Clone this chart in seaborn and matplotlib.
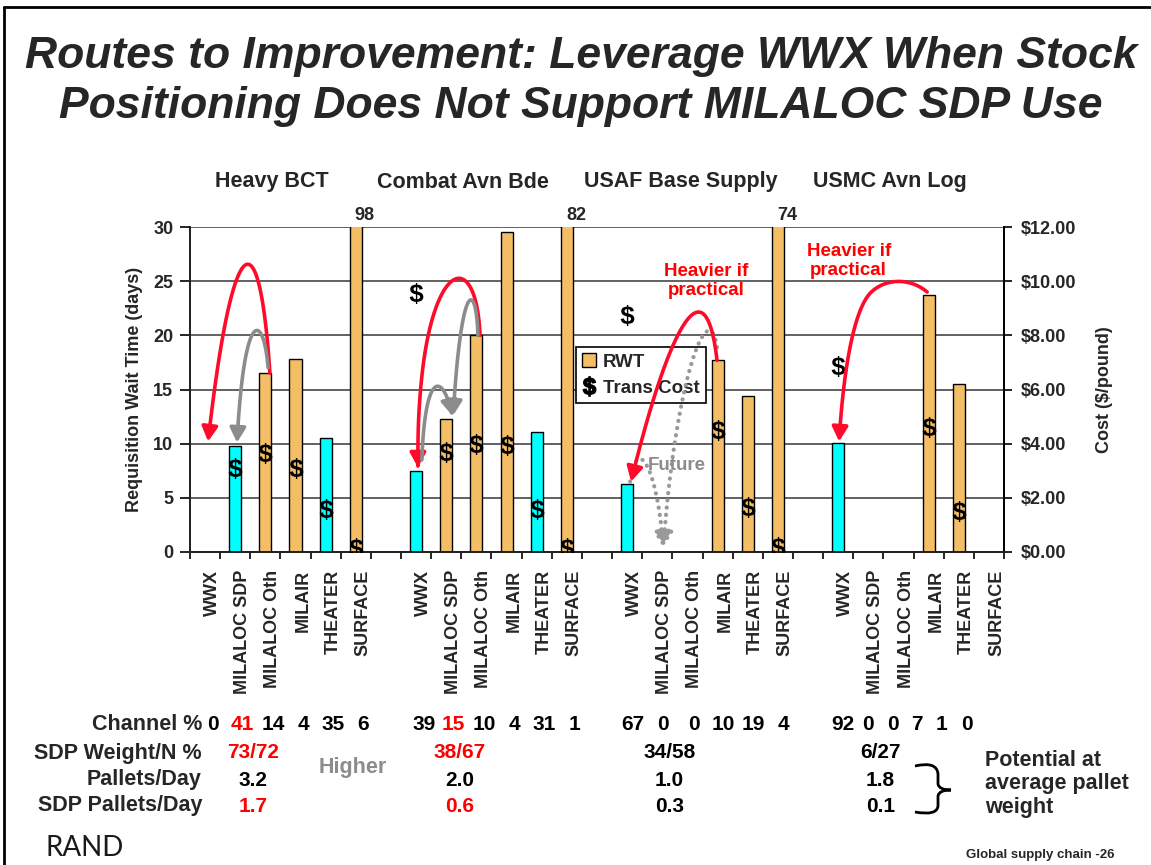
import numpy as np
import pandas as pd
import matplotlib
matplotlib.use("Agg")
import matplotlib.pyplot as plt
import seaborn as sns
from matplotlib.patches import FancyArrowPatch, Patch, PathPatch
from matplotlib.path import Path
from matplotlib.lines import Line2D
from matplotlib.ticker import FuncFormatter
from matplotlib.transforms import blended_transform_factory

# ---- data -------------------------------------------------------------
groups = ["Heavy BCT", "Combat Avn Bde", "USAF Base Supply", "USMC Avn Log"]
channels = ["WWX", "MILALOC SDP", "MILALOC Oth", "MILAIR", "THEATER", "SURFACE"]

# requisition wait time (days)
rwt_hbct = [0, 9.8, 16.5, 17.8, 10.5, 98]
rwt_cab = [7.5, 12.3, 20.0, 29.5, 11.1, 82]
rwt_usaf = [6.3, 0, 0, 17.7, 14.4, 74]
rwt_usmc = [10.1, 0, 0, 23.7, 15.5, 0]

# bars shown in cyan
cyan_hbct = [0, 1, 0, 0, 1, 0]
cyan_cab = [1, 0, 0, 0, 1, 0]
cyan_usaf = [1, 0, 0, 0, 0, 0]
cyan_usmc = [1, 0, 0, 0, 0, 0]

# transportation cost ($/pound)
cost_hbct = [np.nan, 3.1, 3.65, 3.1, 1.6, 0.15]
cost_cab = [9.55, 3.7, 4.0, 3.95, 1.6, 0.15]
cost_usaf = [8.75, np.nan, np.nan, 4.5, 1.65, 0.18]
cost_usmc = [6.85, np.nan, np.nan, 4.6, 1.5, np.nan]

channel_pct_hbct = ["0", "41", "14", "4", "35", "6"]
channel_pct_cab = ["39", "15", "10", "4", "31", "1"]
channel_pct_usaf = ["67", "0", "0", "10", "19", "4"]
channel_pct_usmc = ["92", "0", "0", "7", "1", "0"]

sdp_weight_n = ["73/72", "38/67", "34/58", "6/27"]
pallets_day = ["3.2", "2.0", "1.0", "1.8"]
sdp_pallets_day = ["1.7", "0.6", "0.3", "0.1"]
sdp_red = [True, True, False, False]

# ---- table ------------------------------------------------------------
rwt_all = [rwt_hbct, rwt_cab, rwt_usaf, rwt_usmc]
cyan_all = [cyan_hbct, cyan_cab, cyan_usaf, cyan_usmc]
cost_all = [cost_hbct, cost_cab, cost_usaf, cost_usmc]
pct_all = [channel_pct_hbct, channel_pct_cab, channel_pct_usaf, channel_pct_usmc]

rows, order = [], []
for g, name in enumerate(groups):
    for k, ch in enumerate(channels):
        key = f"{name}|{ch}"
        order.append(key)
        rows.append(dict(key=key, channel=ch, group=g, k=k, rwt=rwt_all[g][k],
                         kind="cyan" if cyan_all[g][k] else "orange",
                         cost=cost_all[g][k]))
    if g < len(groups) - 1:
        order.append(f"gap{g}")
df = pd.DataFrame(rows)
df["pos"] = [order.index(k) for k in df["key"]]

# ---- style ------------------------------------------------------------
W, H = 1151, 865
ORANGE = "#F4BE67"
CYAN = "#00FFFF"
RED = "#FF0A2A"
GRAY = "#8C8C8C"

sns.set_theme(style="white")
plt.rcParams["font.family"] = ["Liberation Sans", "DejaVu Sans"]
plt.rcParams["font.weight"] = "bold"
plt.rcParams["mathtext.fontset"] = "custom"
plt.rcParams["mathtext.bf"] = "Liberation Sans:bold"
plt.rcParams["mathtext.rm"] = "Liberation Sans:bold"


def fy(py):
    return 1 - py / H


fig = plt.figure(figsize=(W / 100, H / 100), dpi=100)
fig.patch.set_facecolor("white")
ax = fig.add_axes([190 / W, fy(552), (1004 - 190) / W, (552 - 227) / H])

sns.barplot(data=df, x="key", y="rwt", order=order, hue="kind",
            palette={"cyan": CYAN, "orange": ORANGE}, saturation=1, dodge=False, width=0.4,
            edgecolor="black", linewidth=1, errorbar=None, legend=False, ax=ax)

ax.set_ylim(0, 30)
ax.set_yticks(range(0, 31, 5))
ax.set_xlim(-0.5, len(order) - 0.5)
ax.set_xticks(np.arange(-0.5, len(order), 1))
ax.set_xticklabels([])
ax.set_xlabel("")
ax.yaxis.grid(True, color="#555555", lw=1.3)
ax.set_axisbelow(True)
ax.tick_params(axis="x", bottom=True, direction="out", length=5, width=1.2, color="black")
ax.tick_params(axis="y", left=True, direction="out", length=7, width=1.2, color="black",
               labelsize=13, pad=5)
for t in ax.get_yticklabels():
    t.set_fontweight("bold")
for s in ["left", "bottom", "right"]:
    ax.spines[s].set_color("black")
    ax.spines[s].set_linewidth(1.3)
ax.spines["top"].set_visible(False)
ax.set_ylabel("Requisition Wait Time (days)", fontsize=13, fontweight="bold")
ax.yaxis.set_label_coords(-0.058, 0.5)

# clipped tall bars get their value on top
for _, r in df[df["rwt"] > 30].iterrows():
    ax.text(r["pos"] + 0.3, 31.1, f"{r['rwt']:g}", ha="center", va="center",
            fontsize=13, fontweight="bold", clip_on=False)

ax2 = ax.twinx()
cdf = df.dropna(subset=["cost"])
sns.scatterplot(data=cdf, x="pos", y="cost", marker=r"$\mathbf{\$}$", s=230,
                color="black", linewidth=0, legend=False, ax=ax2, zorder=4)
ax2.set_ylim(0, 12)
ax2.set_yticks(range(0, 13, 2))
ax2.yaxis.set_major_formatter(FuncFormatter(lambda v, p: f"${v:.2f}"))
ax2.tick_params(axis="y", right=True, direction="out", length=6, width=1.2, color="black",
                labelsize=13, pad=6)
for t in ax2.get_yticklabels():
    t.set_fontweight("bold")
ax2.spines["top"].set_visible(False)
ax2.spines["right"].set_color("black")
ax2.spines["right"].set_linewidth(1.3)
ax2.set_xlabel("")
ax2.set_ylabel("Cost ($/pound)", fontsize=13, fontweight="bold")
ax2.yaxis.set_label_coords(1.113, 0.5)
ax2.set_xlim(-0.5, len(order) - 0.5)

leg = ax2.legend(handles=[Patch(facecolor=ORANGE, edgecolor="black", label="RWT"),
                          Line2D([], [], marker=r"$\mathbf{\$}$", color="black", ls="None",
                                 markersize=14, label="Trans Cost")],
                 loc="upper left", bbox_to_anchor=(0.474, 0.631), frameon=True,
                 fancybox=False, edgecolor="black", framealpha=1,
                 prop=dict(size=13.5, weight="bold"), handlelength=0.75, handleheight=0.75,
                 handletextpad=0.35, borderpad=0.35, labelspacing=0.45, borderaxespad=0)
leg.get_frame().set_linewidth(1.2)
leg.set_zorder(5)


# ---- curved arrows (slot, days) --------------------------------------
def bezier(ctrl, n=50):
    ctrl = np.asarray(ctrl, float)
    t = np.linspace(0, 1, n)[:, None]
    pts = []
    for i in range(0, len(ctrl) - 1, 3):
        p0, p1, p2, p3 = ctrl[i:i + 4]
        seg = (1 - t) ** 3 * p0 + 3 * (1 - t) ** 2 * t * p1 + 3 * (1 - t) * t ** 2 * p2 + t ** 3 * p3
        pts.append(seg if i == 0 else seg[1:])
    return np.vstack(pts)


def curve(ctrl, color, ls="-", lw=2.6):
    arr = FancyArrowPatch(path=Path(bezier(ctrl)), arrowstyle="-|>,head_length=0.55,head_width=0.3",
                          mutation_scale=16, lw=lw, color=color, linestyle=ls,
                          transform=ax.transData, zorder=10, clip_on=False)
    arr.set_capstyle("round")
    arr.set_joinstyle("round")
    ax2.add_patch(arr)


DOT = (0, (0.05, 1.7))
curve([(2.15, 16.5), (1.8, 31.5), (0.9, 30), (0.1, 10.2)], RED)
curve([(2.09, 17), (1.95, 22), (1.3, 23), (1.06, 10.1)], GRAY)
curve([(9.12, 20), (9.0, 28), (7.6, 27), (7.19, 16.2), (7.05, 12.5), (7.06, 10), (7.06, 7.8)], RED)
curve([(7.19, 8.5), (7.3, 17), (7.9, 16.5), (8.2, 12.6)], GRAY)
curve([(9.05, 20), (9.0, 25), (8.5, 25.5), (8.23, 12.6)], GRAY)
curve([(14.1, 6.5), (14.3, 11), (15.0, 8), (15.2, 0.4)], "#999999", ls=DOT, lw=3)
curve([(16.98, 18.9), (16.7, 24), (15.6, 16), (15.2, 0.4)], "#999999", ls=DOT, lw=3)
curve([(16.98, 17.7), (16.6, 27), (15.4, 21), (14.13, 6.5)], RED)
curve([(23.95, 24.0), (23.4, 25.3), (22.6, 25.3), (22.1, 24.0), (21.6, 22.7), (21.2, 18),
       (21.03, 10.2)], RED)

for x, y in [(16.62, 25.0), (21.35, 26.9)]:
    ax2.text(x, y, "Heavier if\npractical", transform=ax.transData, ha="center", va="center",
             color="#FF0000", fontsize=13.5, fontweight="bold", linespacing=1.15, zorder=11)
ax2.text(15.65, 8.0, "Future", transform=ax.transData, ha="center", va="center",
         color=GRAY, fontsize=13.5, fontweight="bold", zorder=11)

# ---- texts around the axes --------------------------------------------
tr = blended_transform_factory(ax.transData, fig.transFigure)

group_x = [2.22, 8.55, 15.78, 22.72]
for name, x in zip(groups, group_x):
    ax.text(x, fy(182), name, transform=tr, ha="center", va="center",
            fontsize=15.5, fontweight="bold")

for _, r in df.iterrows():
    ax.text(r["pos"] + 0.25, fy(570), r["channel"], transform=tr, rotation=90,
            ha="center", va="top", fontsize=13, fontweight="bold")

row_y = [725, 753, 780, 806]
row_names = ["Channel %", "SDP Weight/N %", "Pallets/Day", "SDP Pallets/Day"]
for name, y in zip(row_names, row_y):
    fig.text(202 / W, fy(y), name, ha="right", va="center", fontsize=15.5, fontweight="bold")

pct_layout = [(0.25, 1.0), (0.25, 1.0), (0.2, 1.0), (0.16, 0.82)]
for g, (off, step) in enumerate(pct_layout):
    for k, val in enumerate(pct_all[g]):
        col = "#FF0000" if (sdp_red[g] and k == 1) else "black"
        ax.text(g * 7 + off + k * step, fy(row_y[0]), val, transform=tr, ha="center",
                va="center", fontsize=15, fontweight="bold", color=col)

sum_x = [1.6, 8.45, 15.4, 22.4]
for g, x in enumerate(sum_x):
    col = "#FF0000" if sdp_red[g] else "black"
    ax.text(x, fy(row_y[1]), sdp_weight_n[g], transform=tr, ha="center", va="center",
            fontsize=15, fontweight="bold", color=col)
    ax.text(x, fy(row_y[2]), pallets_day[g], transform=tr, ha="center", va="center",
            fontsize=15, fontweight="bold", color="black")
    ax.text(x, fy(row_y[3]), sdp_pallets_day[g], transform=tr, ha="center", va="center",
            fontsize=15, fontweight="bold", color=col)

fig.text(353 / W, fy(767), "Higher", ha="center", va="center", fontsize=15.5,
         fontweight="bold", color="#8C8C8C")

# brace
bx = [(915, 766), (937, 761), (938, 774), (938, 784), (939, 790), (951, 790),
      (939, 790), (938, 796), (938, 806), (937, 816), (915, 812)]
bcodes = [Path.MOVETO, Path.CURVE3, Path.CURVE3, Path.LINETO, Path.CURVE3, Path.CURVE3,
          Path.CURVE3, Path.CURVE3, Path.LINETO, Path.CURVE3, Path.CURVE3]
bpath = Path([(x / W, fy(y)) for x, y in bx], bcodes)
fig.add_artist(PathPatch(bpath, facecolor="none", edgecolor="black", lw=2,
                         transform=fig.transFigure))
fig.text(985 / W, fy(750), "Potential at\naverage pallet\nweight", ha="left", va="top",
         fontsize=15.5, fontweight="bold", linespacing=1.15)

# title and slide furniture
fig.text(581 / W, fy(68), "Routes to Improvement: Leverage WWX When Stock", ha="center",
         va="baseline", fontsize=32, fontweight="bold", style="italic")
fig.text(581 / W, fy(118), "Positioning Does Not Support MILALOC SDP Use", ha="center",
         va="baseline", fontsize=32, fontweight="bold", style="italic")
fig.text(85 / W, fy(848), "RAND", ha="center", va="center", fontsize=20,
         fontweight="normal", family=["Lato", "DejaVu Sans"], color="#1a1a1a")
fig.text(1040 / W, fy(855), "Global supply chain -26", ha="center", va="center",
         fontsize=9.5, fontweight="bold")
fig.add_artist(Line2D([4 / W, 4 / W], [0, fy(7)], color="black", lw=2, transform=fig.transFigure))
fig.add_artist(Line2D([4 / W, 1], [fy(7), fy(7)], color="black", lw=2, transform=fig.transFigure))

fig.savefig("out.png", dpi=100, facecolor="white")
